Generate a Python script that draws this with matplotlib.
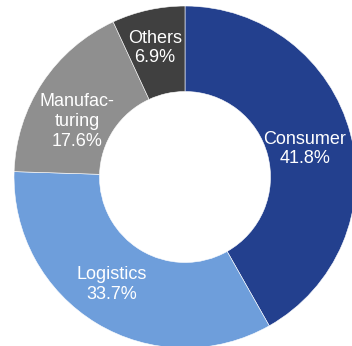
import numpy as np
import matplotlib.pyplot as plt

plt.rcParams['font.family'] = ['Liberation Sans', 'DejaVu Sans']

# data
labels = ['Consumer', 'Logistics', 'Manufac-\nturing', 'Others']
shares = [41.8, 33.7, 17.6, 6.9]
colors = ['#23408e', '#6e9edb', '#8f8f8f', '#404040']

# label placement tweaks (radius, angle nudge in degrees), Excel-style "best fit"
label_r = [0.72, 0.76, 0.71, 0.775]
label_nudge = [-1.7, -3.2, 6.3, 0.7]

fig = plt.figure(figsize=(3.52, 3.46), dpi=100)
# axes placed so the ring is slightly clipped at right/bottom like the original
ax = fig.add_axes([14 / 352, -2 / 346, 342 / 352, 342 / 346])

wedges, _ = ax.pie(shares, colors=colors, startangle=90, counterclock=False,
                   radius=1.0, wedgeprops=dict(width=0.5, edgecolor='white', linewidth=0.4))

for w, lab, val, r, dn in zip(wedges, labels, shares, label_r, label_nudge):
    ang = np.deg2rad((w.theta1 + w.theta2) / 2 + dn)
    ax.text(r * np.cos(ang), r * np.sin(ang), f"{lab}\n{val:.1f}%",
            ha='center', va='center', color='white', fontsize=13,
            linespacing=1.2)

ax.set_xlim(-1, 1)
ax.set_ylim(-1, 1)
ax.set_aspect('equal')
ax.axis('off')

fig.savefig('out.png', dpi=100)
